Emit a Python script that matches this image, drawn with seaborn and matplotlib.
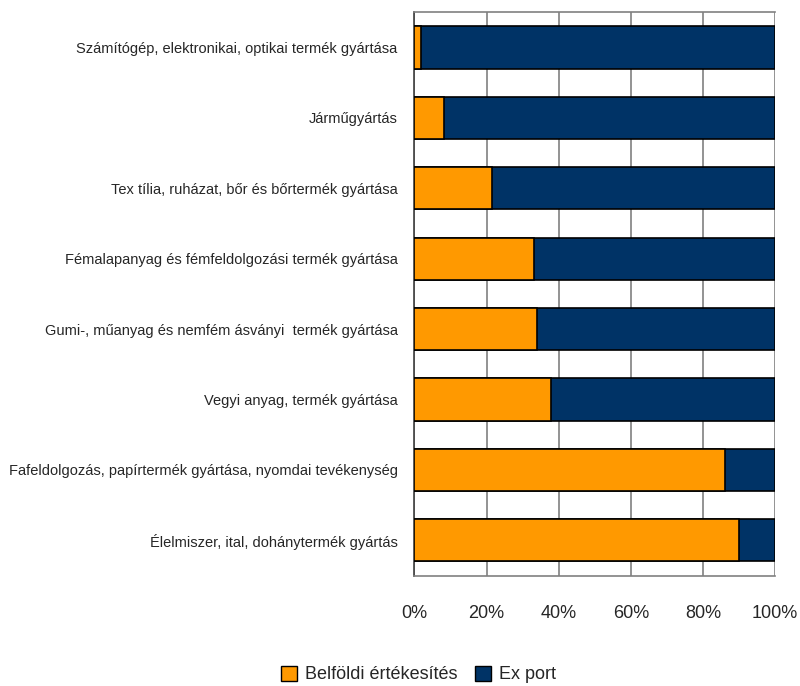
import matplotlib
matplotlib.use('Agg')
import matplotlib.pyplot as plt
import seaborn as sns
import pandas as pd
from matplotlib.patches import Patch
from matplotlib.ticker import FixedLocator, PercentFormatter

sns.set_style('white')
plt.rcParams['font.family'] = ['Liberation Sans', 'DejaVu Sans']

categories = [
    'Számítógép, elektronikai, optikai termék gyártása',
    'Járműgyártás',
    'Tex tília, ruházat, bőr és bőrtermék gyártása',
    'Fémalapanyag és fémfeldolgozási termék gyártása',
    'Gumi-, műanyag és nemfém ásványi  termék gyártása',
    'Vegyi anyag, termék gyártása',
    'Fafeldolgozás, papírtermék gyártása, nyomdai tevékenység',
    'Élelmiszer, ital, dohánytermék gyártás',
]
belfoldi = [1.7, 8.2, 21.6, 33.2, 33.9, 37.8, 86.2, 90.0]
export = [100 - v for v in belfoldi]

df = pd.DataFrame({'kat': categories, 'belfoldi': belfoldi, 'export': export})
df['osszes'] = df['belfoldi'] + df['export']

orange = '#FF9900'
navy = '#003366'

fig = plt.figure(figsize=(8, 6.86), dpi=100)
ax = fig.add_axes([0.518, 0.161, 0.451, 0.821])

sns.barplot(data=df, x='osszes', y='kat', color=navy, orient='h', width=0.6, saturation=1,
            edgecolor='black', linewidth=1.2, ax=ax, zorder=3)
sns.barplot(data=df, x='belfoldi', y='kat', color=orange, orient='h', width=0.6, saturation=1,
            edgecolor='black', linewidth=1.2, ax=ax, zorder=4)

ax.set_xlim(0, 100)
ax.set_ylim(len(categories) - 0.5, -0.5)
ax.set_xticks([0, 20, 40, 60, 80, 100])
ax.xaxis.set_major_formatter(PercentFormatter(decimals=0))
ax.grid(axis='x', color='#808080', linewidth=1.2, zorder=0)
ax.set_xlabel('')
ax.set_ylabel('')

for s in ['top', 'bottom']:
    ax.spines[s].set_color('#808080')
    ax.spines[s].set_linewidth(1.2)
ax.spines['right'].set_visible(False)
ax.spines['left'].set_color('#404040')
ax.spines['left'].set_linewidth(1.2)

ax.tick_params(axis='x', length=8, color='#808080', width=1.2, labelsize=13, pad=13)
ax.tick_params(axis='y', which='major', length=0, labelsize=10.5, pad=12)
ax.yaxis.set_minor_locator(FixedLocator([i - 0.5 for i in range(len(categories) + 1)]))
ax.tick_params(axis='y', which='minor', length=5, color='#404040', width=1.2, direction='out')

handles = [Patch(facecolor=orange, edgecolor='black', label='Belföldi értékesítés'),
           Patch(facecolor=navy, edgecolor='black', label='Ex port')]
fig.legend(handles=handles, loc='lower center', bbox_to_anchor=(0.523, -0.02), ncol=2,
           frameon=False, fontsize=13, handlelength=0.9, handleheight=0.9,
           handletextpad=0.4, columnspacing=1.0)

fig.savefig('out.png', dpi=100)
